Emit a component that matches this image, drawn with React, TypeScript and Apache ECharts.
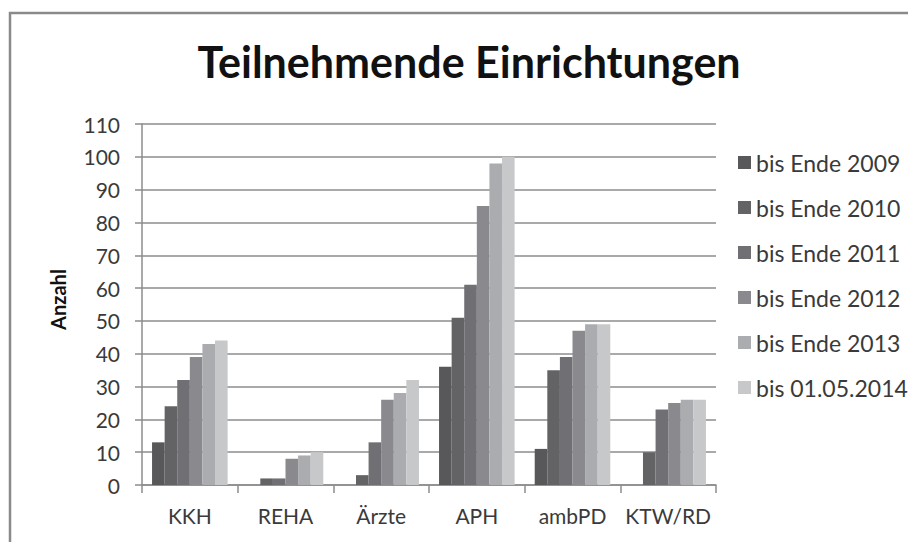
import React, { useEffect, useRef } from "react";
import * as echarts from "echarts";

const categories = ["KKH", "REHA", "Ärzte", "APH", "ambPD", "KTW/RD"];
const seriesNames = [
  "bis Ende 2009",
  "bis Ende 2010",
  "bis Ende 2011",
  "bis Ende 2012",
  "bis Ende 2013",
  "bis 01.05.2014",
];
const values2009 = [13, 0, 0, 36, 11, 0];
const values2010 = [24, 2, 3, 51, 35, 10];
const values2011 = [32, 2, 13, 61, 39, 23];
const values2012 = [39, 8, 26, 85, 47, 25];
const values2013 = [43, 9, 28, 98, 49, 26];
const values2014 = [44, 10, 32, 100, 49, 26];
const allValues = [values2009, values2010, values2011, values2012, values2013, values2014];
const colors = ["#58585b", "#636366", "#707074", "#8a8a8e", "#abacaf", "#c7c8ca"];

const FONT = "Lato, 'Open Sans', sans-serif";

export default function App() {
  const ref = useRef<HTMLDivElement>(null);
  useEffect(() => {
    if (!ref.current) return;
    const chart = echarts.init(ref.current, null, { renderer: "svg" });
    chart.setOption({
      animation: false,
      backgroundColor: "#ffffff",
      textStyle: { fontFamily: FONT },
      title: {
        text: "Teilnehmende Einrichtungen",
        left: 464,
        top: 35,
        textAlign: "center",
        textStyle: { fontFamily: FONT, fontSize: 43, fontWeight: "bold", color: "#111111" },
      },
      graphic: [
        {
          type: "rect",
          shape: { x: 10, y: 13, width: 960, height: 600 },
          style: { fill: "none", stroke: "#8a8a8a", lineWidth: 2.5 },
          silent: true,
        },
      ],
      legend: {
        orient: "vertical",
        left: 733,
        top: 146,
        padding: 5,
        itemWidth: 13,
        itemHeight: 13,
        itemGap: 22,
        icon: "rect",
        textStyle: { fontFamily: FONT, fontSize: 23, color: "#3a3a3a" },
        data: seriesNames,
      },
      grid: { left: 142, right: 192, top: 124, bottom: 57 },
      xAxis: {
        type: "category",
        data: categories,
        axisLine: { lineStyle: { color: "#8c8c8c", width: 1.5 } },
        axisTick: { show: true, length: 8, alignWithLabel: false, lineStyle: { color: "#8c8c8c", width: 1.5 } },
        axisLabel: { fontFamily: FONT, fontSize: 21, color: "#3a3a3a", margin: 20, interval: 0 },
      },
      yAxis: {
        type: "value",
        min: 0,
        max: 110,
        interval: 10,
        name: "Anzahl",
        nameLocation: "middle",
        nameGap: 74,
        nameRotate: 90,
        nameTextStyle: { fontFamily: FONT, fontSize: 20, fontWeight: "bold", color: "#111111", padding: [0, 0, 0, 10] },
        axisLine: { show: true, lineStyle: { color: "#8c8c8c", width: 1.5 } },
        axisTick: { show: true, length: 7, lineStyle: { color: "#8c8c8c", width: 1.5 } },
        axisLabel: { fontFamily: FONT, fontSize: 21, color: "#3a3a3a", margin: 22 },
        splitLine: { lineStyle: { color: "#8c8c8c", width: 1.5 } },
      },
      series: seriesNames.map((name, i) => ({
        name,
        type: "bar",
        data: allValues[i],
        barGap: "0%",
        barCategoryGap: "21%",
        itemStyle: { color: colors[i] },
      })),
    });
    return () => chart.dispose();
  }, []);
  return (
    <div
      ref={ref}
      style={{ position: "absolute", left: 0, top: 0, width: 908, height: 542 }}
    />
  );
}
